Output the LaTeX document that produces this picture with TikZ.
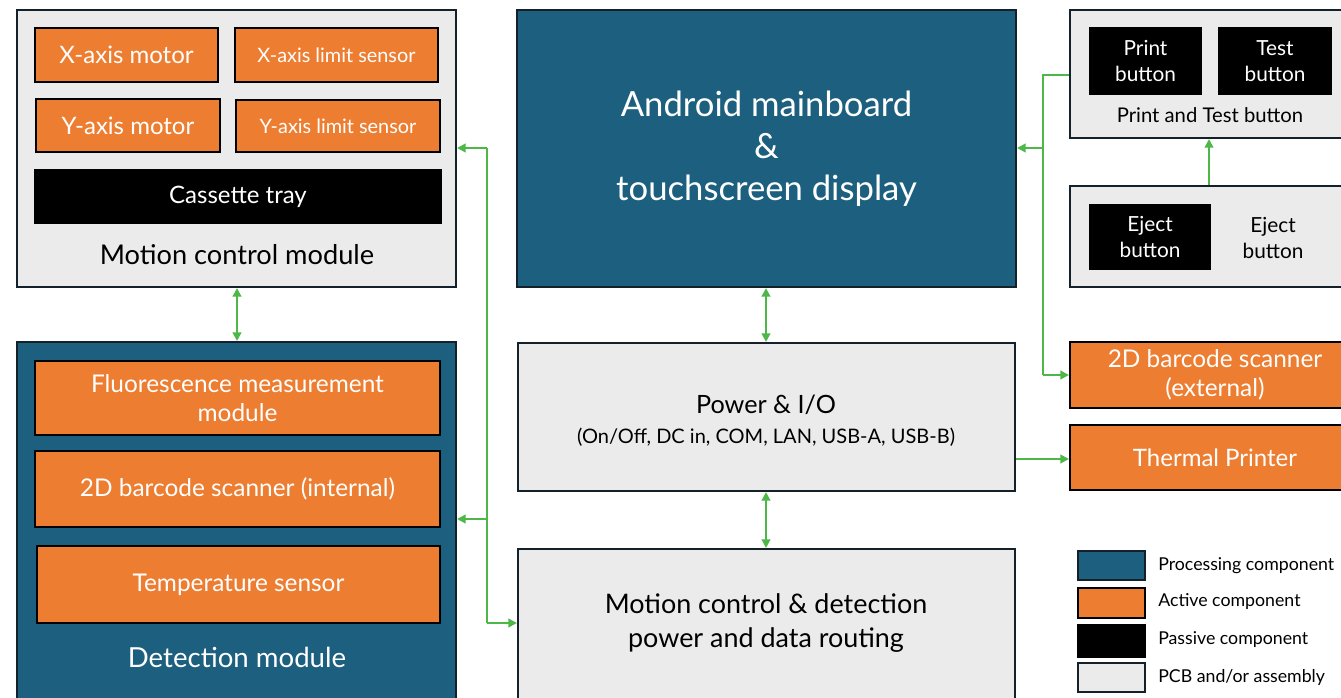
\documentclass[tikz,border=0pt]{standalone}
\usepackage{fontspec}
\setmainfont{Lato}
\usetikzlibrary{arrows.meta}
\definecolor{teal}{HTML}{1C5F7E}
\definecolor{orng}{HTML}{ED7D31}
\definecolor{pcb}{HTML}{EBEBEB}
\definecolor{grn}{HTML}{4DB848}
\definecolor{edge}{HTML}{14212B}
\tikzset{
  base/.style={inner sep=0pt, line width=1.6pt, align=center},
  pcbbox/.style={base, draw=edge, fill=pcb, text=black},
  procbox/.style={base, draw=edge, fill=teal, text=white},
  actbox/.style={base, draw=black, fill=orng, text=white},
  passbox/.style={base, draw=black, fill=black, text=white},
  lbl/.style={inner sep=0pt, align=center},
  conn/.style={draw=grn, line width=1.7pt},
  tip/.style={-{Triangle[length=6.5pt,width=6.5pt]}},
  dtip/.style={{Triangle[length=6.5pt,width=6.5pt]}-{Triangle[length=6.5pt,width=6.5pt]}},
}
% \mybox{style}{name}{x1}{y1}{x2}{y2}{text}
\newcommand\mybox[7]{%
  \node[#1, minimum width={(#5-#3)*0.75pt}, minimum height={(#6-#4)*0.75pt}]
    (#2) at ({(#3+#5)/2},{(#4+#6)/2}) {#7};}
\newcommand\fs[2]{\fontsize{#1}{#2}\selectfont}
\begin{document}
\begin{tikzpicture}[x=0.75pt,y=-0.75pt]
\useasboundingbox (0,0) rectangle (1341,697);
\fill[white] (0,0) rectangle (1341,697);

% Motion control module
\mybox{pcbbox}{mcm}{17}{10}{456}{287}{}
\mybox{actbox, font=\fs{18}{21}}{xm}{35}{28}{218}{82}{X-axis motor}
\mybox{actbox, font=\fs{14.9}{18}}{xl}{235}{28}{438}{82}{X-axis limit sensor}
\mybox{actbox, font=\fs{18}{21}}{ym}{36}{99}{220}{152}{Y-axis motor}
\mybox{actbox, font=\fs{14.9}{18}}{yl}{236}{100}{440}{152}{Y-axis limit sensor}
\mybox{passbox, font=\fs{18}{21}}{ct}{35}{170}{441}{223}{Cassette tray}
\node[lbl, font=\fs{20.4}{24}] (mcml) at (237,255) {Motion control module};

% Detection module
\mybox{procbox}{det}{17}{342}{456}{712}{}
\mybox{actbox, font=\fs{18.3}{22}}{flu}{35}{361}{440}{435}{Fluorescence measurement\\module}
\mybox{actbox, font=\fs{18.3}{22}}{bci}{35}{451}{440}{527}{2D barcode scanner (internal)}
\mybox{actbox, font=\fs{18.3}{22}}{tmp}{37}{546}{440}{623}{Temperature sensor}
\node[lbl, text=white, font=\fs{20.7}{24}] (detl) at (237,657) {Detection module};

% Center column
\mybox{procbox, font=\fs{26}{31.5}}{and}{517}{10}{1016}{287}{Android mainboard\\\&\\touchscreen display}
\mybox{pcbbox}{pio}{518}{343}{1015}{491}{}
\node[lbl, font=\fs{18.9}{22}] (piol) at (766,405) {Power \& I/O};
\node[lbl, font=\fs{15}{18}] (pios) at (766,437) {(On/Off, DC in, COM, LAN, USB-A, USB-B)};
\mybox{pcbbox}{rout}{518}{549}{1015}{712}{}
\node[lbl, font=\fs{20.2}{25.5}] (routl) at (766,623) {Motion control \& detection\\power and data routing};

% Right column
\mybox{pcbbox}{ptb}{1070}{10}{1360}{138}{}
\mybox{passbox, font=\fs{15.6}{19}}{pb}{1090}{28}{1201}{94}{Print\\button}
\mybox{passbox, font=\fs{15.6}{19}}{tb}{1219}{28}{1331}{94}{Test\\button}
\node[lbl, font=\fs{15.2}{18}] (ptbl) at (1210,115) {Print and Test button};
\mybox{pcbbox}{ejb}{1070}{186}{1360}{287}{}
\mybox{passbox, font=\fs{15.6}{19}}{eb}{1090}{205}{1210}{269}{Eject\\button}
\node[lbl, font=\fs{15.6}{19}] (ejl) at (1273,238) {Eject\\button};
\mybox{actbox, font=\fs{18.3}{22}}{bce}{1070}{342}{1360}{408}{2D barcode scanner\\(external)}
\mybox{actbox, font=\fs{18}{21}}{thp}{1070}{425}{1360}{490}{Thermal Printer}

% Legend
\mybox{procbox}{lg1}{1078}{551}{1145}{580}{}
\mybox{actbox}{lg2}{1078}{588}{1145}{618}{}
\mybox{passbox}{lg3}{1078}{625}{1145}{657}{}
\mybox{pcbbox}{lg4}{1078}{663}{1145}{692}{}
\tikzset{legtxt/.style={lbl, anchor=west, font=\fs{13.3}{16}}}
\node[legtxt] (lt1) at (1158,566) {Processing component};
\node[legtxt] (lt2) at (1158,602) {Active component};
\node[legtxt] (lt3) at (1158,640) {Passive component};
\node[legtxt] (lt4) at (1158,677) {PCB and/or assembly};

% Connectors
\draw[conn, dtip] (mcm.south -| 237,0) -- (det.north -| 237,0);
\draw[conn, dtip] (and.south -| 766,0) -- (pio.north -| 766,0);
\draw[conn, dtip] (pio.south -| 766,0) -- (rout.north -| 766,0);

\coordinate (lb1) at (487,148);
\coordinate (lb2) at (487,519);
\coordinate (lb3) at (487,623);
\draw[conn] (lb1) -- (lb3);
\draw[conn, tip] (lb1) -- (lb1 -| mcm.east);
\draw[conn, tip] (lb2) -- (lb2 -| det.east);
\draw[conn, tip] (lb3) -- (lb3 -| rout.west);

\coordinate (rb1) at (1043,75);
\coordinate (rb2) at (1043,148);
\coordinate (rb3) at (1043,375);
\draw[conn] (rb1 -| ptb.west) -- (rb1) -- (rb3);
\draw[conn, tip] (rb2) -- (rb2 -| and.east);
\draw[conn, tip] (rb3) -- (rb3 -| bce.west);

\draw[conn, tip] (ejb.north -| 1209,0) -- (ptb.south -| 1209,0);
\draw[conn, tip] (pio.east |- 0,459) -- (thp.west |- 0,459);
\end{tikzpicture}
\end{document}
